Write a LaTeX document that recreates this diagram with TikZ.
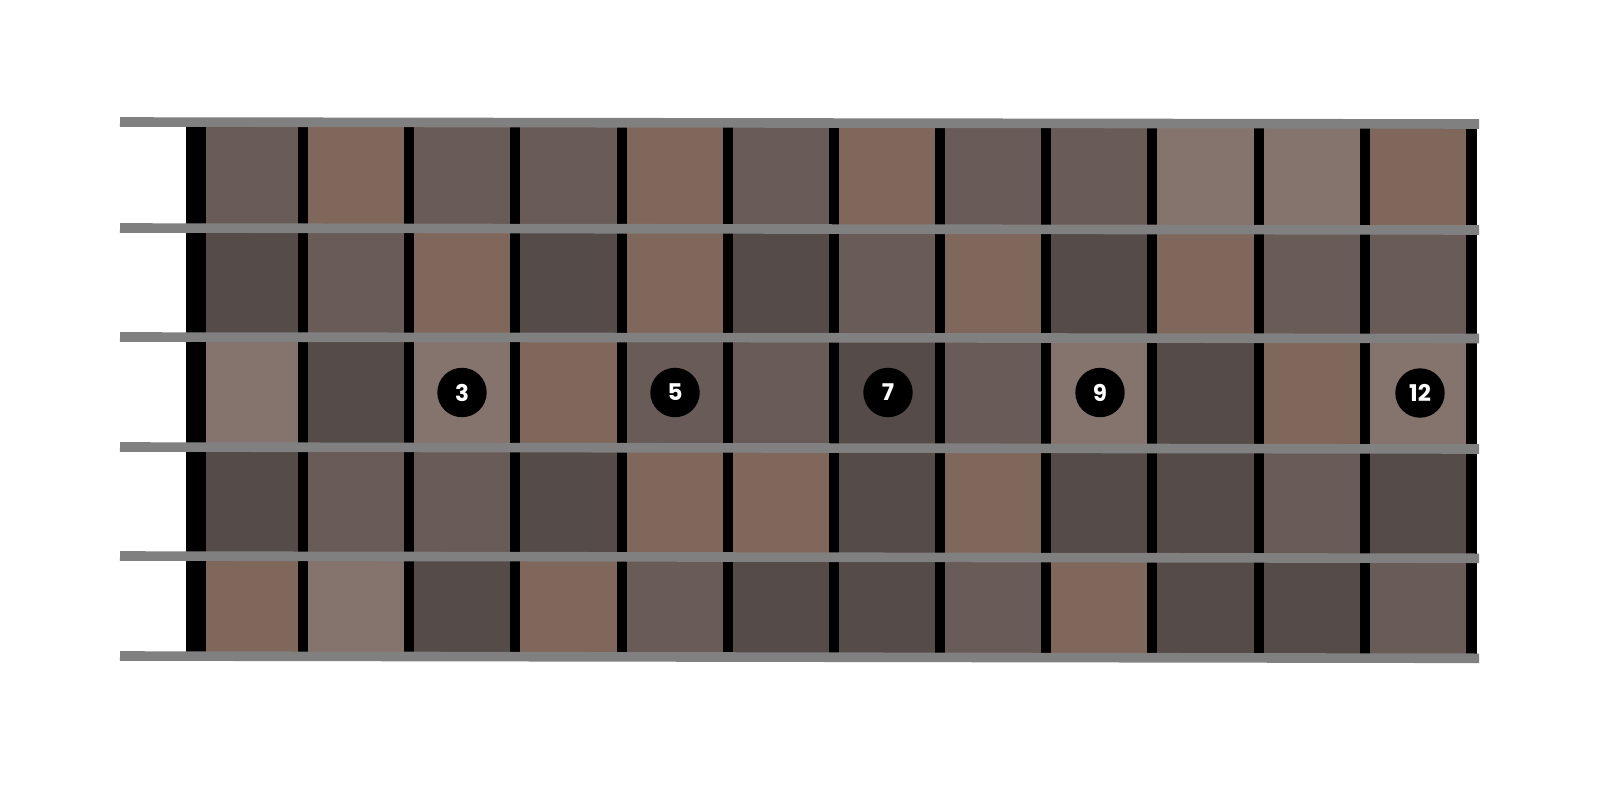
\documentclass[tikz,border=0pt]{standalone}
\usepackage{fontspec}
\newfontfamily\dotfont{Poppins}
\definecolor{cM}{HTML}{695B57}
\definecolor{cD}{HTML}{554B48}
\definecolor{cB}{HTML}{80675B}
\definecolor{cL}{HTML}{85746D}
\definecolor{stringgray}{HTML}{808080}
\tikzset{
  fretbar/.style={fill=black},
  gtrstring/.style={draw=stringgray,line width=9.6pt},
  fretdot/.style={circle,fill=black,minimum size=49.4pt,inner sep=0pt,text=white,
    font=\dotfont\bfseries\fontsize{23}{23}\selectfont}
}
\begin{document}
\begin{tikzpicture}[x=1pt,y=-1pt]
\useasboundingbox (0,0) rectangle (1600,800);
\fill[white] (0,0) rectangle (1600,800);
% cells
\foreach \ytop/\ybot/\cols in {
  123/229/{M,B,M,M,B,M,B,M,M,L,L,B},
  229/338/{D,M,B,D,B,D,M,B,D,B,M,M},
  338/448/{L,D,L,B,M,M,D,M,L,D,B,L},
  448/557/{D,M,M,D,B,B,D,B,D,D,M,D},
  557/657/{B,L,D,B,M,D,D,M,B,D,D,M}} {
  \foreach \c [count=\k] in \cols {
    \pgfmathsetmacro\xl{ifthenelse(\k==1,206,298+(\k-2)*106.18+10)}
    \pgfmathsetmacro\xr{298+(\k-1)*106.18}
    \fill[c\c] (\xl,\ytop) rectangle (\xr,\ybot);
  }
}
% nut and frets
\fill[fretbar] (186,122) rectangle (206,657);
\foreach \k in {1,...,11} {
  \fill[fretbar] ({298+(\k-1)*106.18},122) rectangle ++(10,535);
}
\fill[fretbar] (1466,123) rectangle (1477,658);
% strings
\draw[gtrstring] (120,122) -- (1479,124);
\draw[gtrstring] (120,228) -- (1479,230);
\draw[gtrstring] (120,337) -- (1479,338.5);
\draw[gtrstring] (120,447) -- (1479,449);
\draw[gtrstring] (120,556) -- (1479,558.3);
\draw[gtrstring] (120,656) -- (1479,658.3);
% position dots
\node[fretdot] (d3) at (462,392.5) {3};
\node[fretdot] (d5) at (675,392.5) {5};
\node[fretdot] (d7) at (888,392.5) {7};
\node[fretdot] (d9) at (1100,392.5) {9};
\node[fretdot] (d12) at (1420,393) {12};
\end{tikzpicture}
\end{document}
